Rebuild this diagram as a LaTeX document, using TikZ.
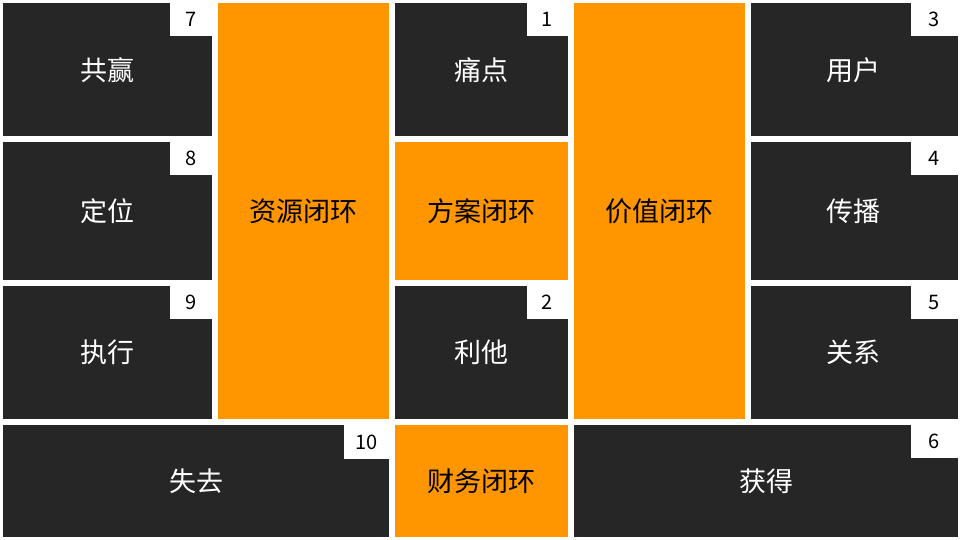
\documentclass[tikz,border=0pt]{standalone}
\usepackage{fontspec}
\setmainfont{Noto Sans CJK SC}
\definecolor{darkbox}{HTML}{262626}
\definecolor{orangebox}{HTML}{FF9600}
\begin{document}
\begin{tikzpicture}[x=1pt,y=-1pt,
  lbl/.style={font=\fontsize{27}{32}\selectfont},
  wlbl/.style={lbl,text=white},
  numsq/.style={fill=white,draw=none,inner sep=0pt,minimum width=42pt,minimum height=33pt,anchor=north east,font=\fontsize{20}{24}\selectfont}]
\useasboundingbox[fill=white] (0,0) rectangle (960,540);
% Column A
\fill[darkbox] (3,3) rectangle (212,136);
\node[wlbl] (gongying) at (107.5,70) {共赢};
\node[numsq] (n7) at (212,3) {7};
\fill[darkbox] (3,142) rectangle (212,280);
\node[wlbl] (dingwei) at (107.5,211) {定位};
\node[numsq] (n8) at (212,142) {8};
\fill[darkbox] (3,286) rectangle (212,419);
\node[wlbl] (zhixing) at (107.5,352) {执行};
\node[numsq] (n9) at (212,286) {9};
% Column B
\fill[orangebox] (218,3) rectangle (389,419);
\node[lbl] (ziyuan) at (303.5,211) {资源闭环};
% Column C
\fill[darkbox] (395,3) rectangle (568,136);
\node[wlbl] (tongdian) at (481.5,70) {痛点};
\node[numsq,minimum width=41pt] (n1) at (568,3) {1};
\fill[orangebox] (395,142) rectangle (568,280);
\node[lbl] (fangan) at (481.5,211) {方案闭环};
\fill[darkbox] (395,286) rectangle (568,419);
\node[wlbl] (lita) at (481.5,352) {利他};
\node[numsq,minimum width=41pt] (n2) at (568,286) {2};
% Column D
\fill[orangebox] (574,3) rectangle (745,419);
\node[lbl] (jiazhi) at (659.5,211) {价值闭环};
% Column E
\fill[darkbox] (751,3) rectangle (958,136);
\node[wlbl] (yonghu) at (853.5,70) {用户};
\node[numsq,minimum width=47pt] (n3) at (958,3) {3};
\fill[darkbox] (751,142) rectangle (958,280);
\node[wlbl] (chuanbo) at (853.5,211) {传播};
\node[numsq,minimum width=47pt] (n4) at (958,142) {4};
\fill[darkbox] (751,286) rectangle (958,419);
\node[wlbl] (guanxi) at (853.5,352) {关系};
\node[numsq,minimum width=47pt] (n5) at (958,286) {5};
% Bottom row
\fill[darkbox] (3,425) rectangle (389,537);
\node[wlbl] (shiqu) at (196,481) {失去};
\node[numsq,minimum width=45pt,minimum height=34pt] (n10) at (389,425) {10};
\fill[orangebox] (395,425) rectangle (568,537);
\node[lbl] (caiwu) at (481.5,481) {财务闭环};
\fill[darkbox] (574,425) rectangle (958,537);
\node[wlbl] (huode) at (766,481) {获得};
\node[numsq,minimum width=47pt] (n6) at (958,425) {6};
\end{tikzpicture}
\end{document}
